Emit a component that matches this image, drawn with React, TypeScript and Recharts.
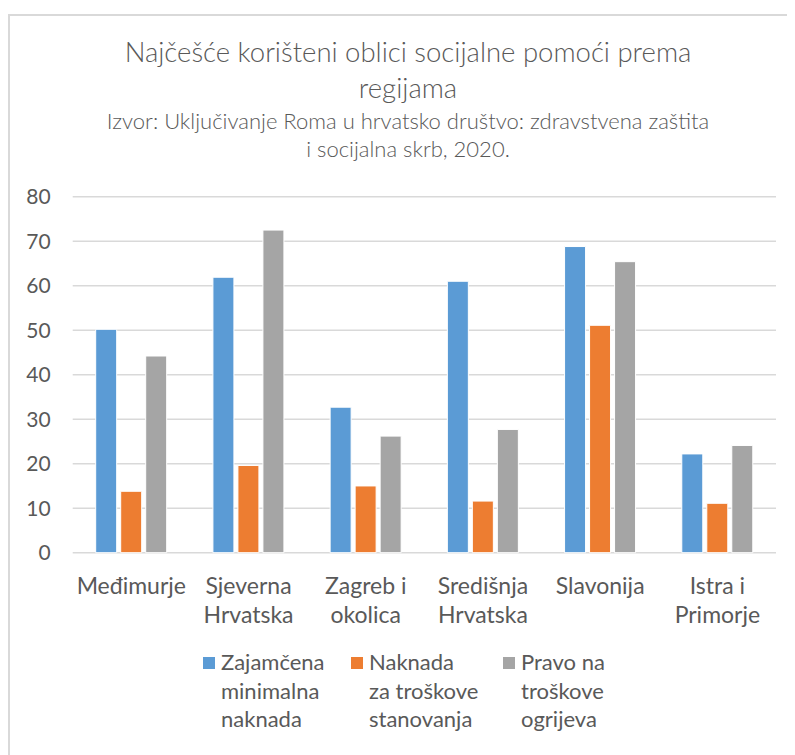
import { BarChart, Bar, XAxis, YAxis, CartesianGrid } from 'recharts';

const regions = ['Međimurje', 'Sjeverna Hrvatska', 'Zagreb i okolica', 'Središnja Hrvatska', 'Slavonija', 'Istra i Primorje'];
const minimalAllowance = [50.2, 61.9, 32.7, 61.0, 68.8, 22.2];
const housingAllowance = [13.8, 19.6, 15.0, 11.6, 51.1, 11.1];
const heatingRight = [44.2, 72.5, 26.2, 27.7, 65.4, 24.1];
const yTicks = [0, 10, 20, 30, 40, 50, 60, 70, 80];

const seriesKeys = ['minimal', 'housing', 'heating'];
const seriesNames = ['Zajamčena minimalna naknada', 'Naknada za troškove stanovanja', 'Pravo na troškove ogrijeva'];
const legendLines = [
  ['Zajamčena', 'minimalna', 'naknada'],
  ['Naknada', 'za troškove', 'stanovanja'],
  ['Pravo na', 'troškove', 'ogrijeva'],
];
const COLORS = ['#5B9BD5', '#ED7D31', '#A5A5A5'];

const titleLines = ['Najčešće korišteni oblici socijalne pomoći prema', 'regijama'];
const subtitleLines = ['Izvor: Uključivanje Roma u hrvatsko društvo: zdravstvena zaštita', 'i socijalna skrb, 2020.'];

const data = regions.map((name, i) => ({
  name,
  minimal: minimalAllowance[i],
  housing: housingAllowance[i],
  heating: heatingRight[i],
}));

const FONT = 'Lato, "Open Sans", sans-serif';
const TEXT = '#595959';
const LABEL_SIZE = 23;

// Excel wraps the two-word-ish region names before the last word
function wrapLabel(label: string) {
  const cut = label.lastIndexOf(' ');
  return cut < 0 ? [label] : [label.slice(0, cut), label.slice(cut + 1)];
}

function RegionTick({ x, y, payload }: any) {
  const lines = wrapLabel(String(payload.value));
  return (
    <text x={x} y={y} textAnchor="middle" fontSize={LABEL_SIZE} fontFamily={FONT} fill={TEXT}>
      {lines.map((l, i) => (
        <tspan key={l} x={x} dy={i === 0 ? '0.71em' : 29}>{l}</tspan>
      ))}
    </text>
  );
}

// page coords minus the 8px body margin
const legendX = [195, 343, 495];

export default function App() {
  return (
    <div style={{ position: 'relative', width: 787, height: 747, fontFamily: FONT, color: TEXT }}>
      <div
        style={{
          position: 'absolute', left: 0, top: 6, right: 0, bottom: 0,
          borderTop: '2px solid #d9d9d9', borderLeft: '2px solid #d9d9d9',
        }}
      />
      <div style={{ position: 'absolute', left: 0, width: 800, top: 26, textAlign: 'center', fontSize: 27.5, fontWeight: 300, lineHeight: '36px' }}>
        {titleLines.map((t) => <div key={t}>{t}</div>)}
      </div>
      <div style={{ position: 'absolute', left: 0, width: 800, top: 99, textAlign: 'center', fontSize: 22, fontWeight: 300, lineHeight: '28px' }}>
        {subtitleLines.map((t) => <div key={t}>{t}</div>)}
      </div>
      <div style={{ position: 'absolute', left: 0, top: 0 }}>
        <BarChart
          width={787}
          height={747}
          data={data}
          margin={{ top: 188.7, right: 19, bottom: 142.3, left: 0 }}
          barSize={21}
          barGap={4}
        >
          <CartesianGrid vertical={false} stroke="#d9d9d9" strokeWidth={1.5} />
          <XAxis
            dataKey="name"
            height={60}
            axisLine={false}
            tickLine={false}
            tickSize={0}
            tickMargin={25}
            interval={0}
            tick={<RegionTick />}
          />
          <YAxis
            width={64.7}
            domain={[0, 80]}
            ticks={yTicks}
            axisLine={false}
            tickLine={false}
            tickSize={0}
            tickMargin={22}
            tick={{ fontSize: 21, fill: TEXT, fontFamily: FONT }}
          />
          {seriesKeys.map((key, i) => (
            <Bar
              key={key}
              dataKey={key}
              name={seriesNames[i]}
              fill={COLORS[i]}
              stroke="#fff"
              strokeWidth={1}
              isAnimationActive={false}
            />
          ))}
        </BarChart>
      </div>
      {legendLines.map((lines, i) => (
        <div key={i} style={{ position: 'absolute', left: legendX[i], top: 640, display: 'flex', fontSize: 22, lineHeight: '28.5px' }}>
          <div style={{ width: 12, height: 12, background: COLORS[i], marginTop: 9, marginRight: 6 }} />
          <div>{lines.map((l) => <div key={l}>{l}</div>)}</div>
        </div>
      ))}
    </div>
  );
}
